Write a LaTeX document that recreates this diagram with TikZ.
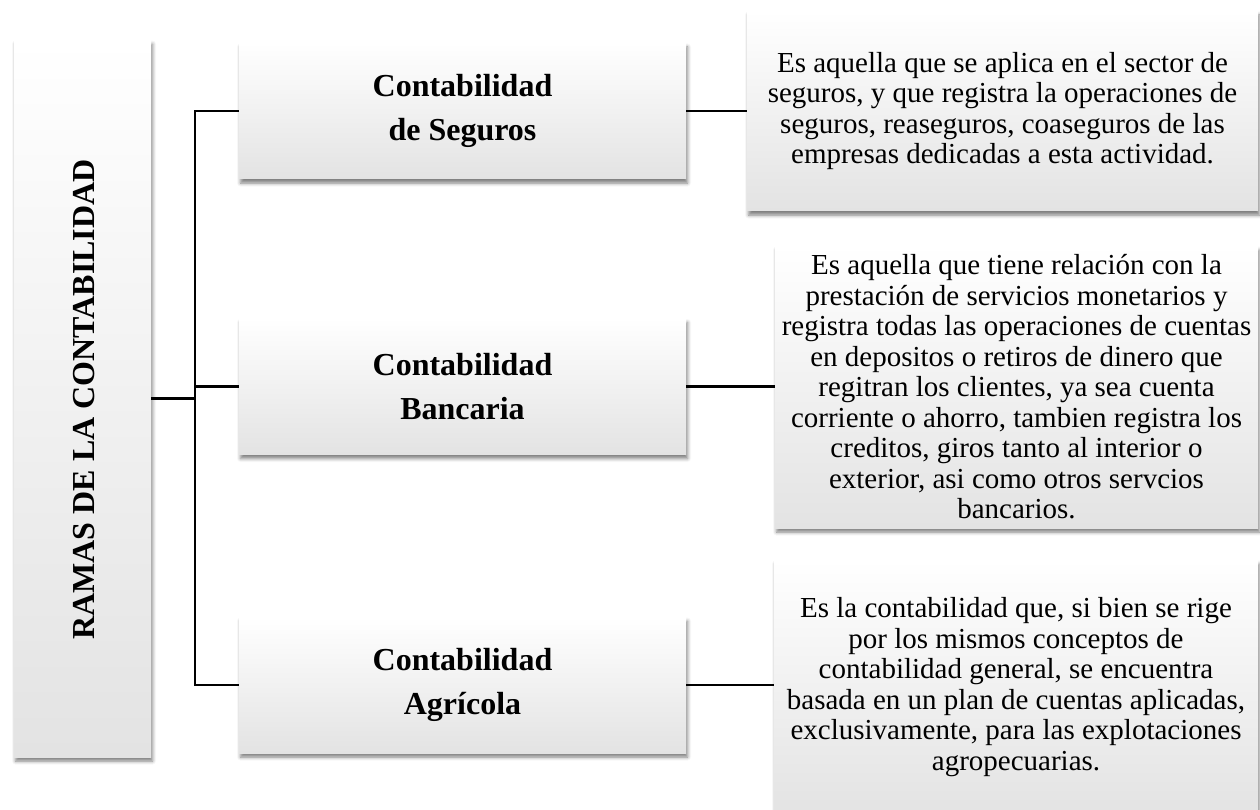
\documentclass[tikz,border=0pt]{standalone}
\usepackage{fontspec}
\setmainfont{Liberation Serif}
\usetikzlibrary{shadows.blur}
\begin{document}
\begin{tikzpicture}[x=1pt,y=-1pt,
  panel/.style={inner sep=0pt, outer sep=0pt, align=center,
    top color=white, middle color=white!98!black, bottom color=black!11,
    blur shadow={shadow xshift=1.5pt, shadow yshift=-4pt, shadow blur radius=3.5pt, shadow opacity=50}},
  body/.style={font=\fontsize{29}{30.5}\selectfont},
  head/.style={font=\fontsize{32}{44}\selectfont\bfseries},
  link/.style={line width=2.4pt, black}]
\useasboundingbox (0,0) rectangle (1260,810);
% left box and its rotated title
\node[panel, minimum width=137pt, minimum height=717pt] (root) at (82.5,398.5) {};
\node[rotate=90, inner sep=0pt, font=\fontsize{32}{38}\selectfont\bfseries] (rt) at (84,399.5) {RAMAS DE LA CONTABILIDAD};
% branch boxes
\node[panel, head, minimum width=447pt, minimum height=136pt] (b1) at (462.5,111) {Contabilidad\\de Seguros};
\node[panel, head, minimum width=447pt, minimum height=136pt] (b2) at (462.5,386.5) {Contabilidad\\Bancaria};
\node[panel, head, minimum width=447pt, minimum height=136pt] (b3) at (462.5,685) {Contabilidad\\Agrícola};
% description boxes
\node[panel, body, minimum width=511pt, minimum height=200pt] (d1) at (1002.5,111) {Es aquella que se aplica en el sector de\\seguros, y que registra la operaciones de\\seguros, reaseguros, coaseguros de las\\empresas dedicadas a esta actividad.};
\node[panel, body, minimum width=483pt, minimum height=282pt] (d2) at (1016.5,387) {Es aquella que tiene relación con la\\prestación de servicios monetarios y\\registra todas las operaciones de cuentas\\en depositos o retiros de dinero que\\regitran los clientes, ya sea cuenta\\corriente o ahorro, tambien registra los\\creditos, giros tanto al interior o\\exterior, asi como otros servcios\\bancarios.};
\node[panel, body, minimum width=484pt, minimum height=254pt] (d3) at (1016,687) {Es la contabilidad que, si bien se rige\\por los mismos conceptos de\\contabilidad general, se encuentra\\basada en un plan de cuentas aplicadas,\\exclusivamente, para las explotaciones\\agropecuarias.};
% connectors
\coordinate (j) at (195,398.5);
\draw[link] (root.east) -- (j);
\draw[link] (b1.west) -| (j) |- (b3.west);
\draw[link] (j |- b2.west) -- (b2.west);
\draw[link] (b1.east) -- (b1.east -| d1.west);
\draw[link] (b2.east) -- (b2.east -| d2.west);
\draw[link] (b3.east) -- (b3.east -| d3.west);
\end{tikzpicture}
\end{document}
